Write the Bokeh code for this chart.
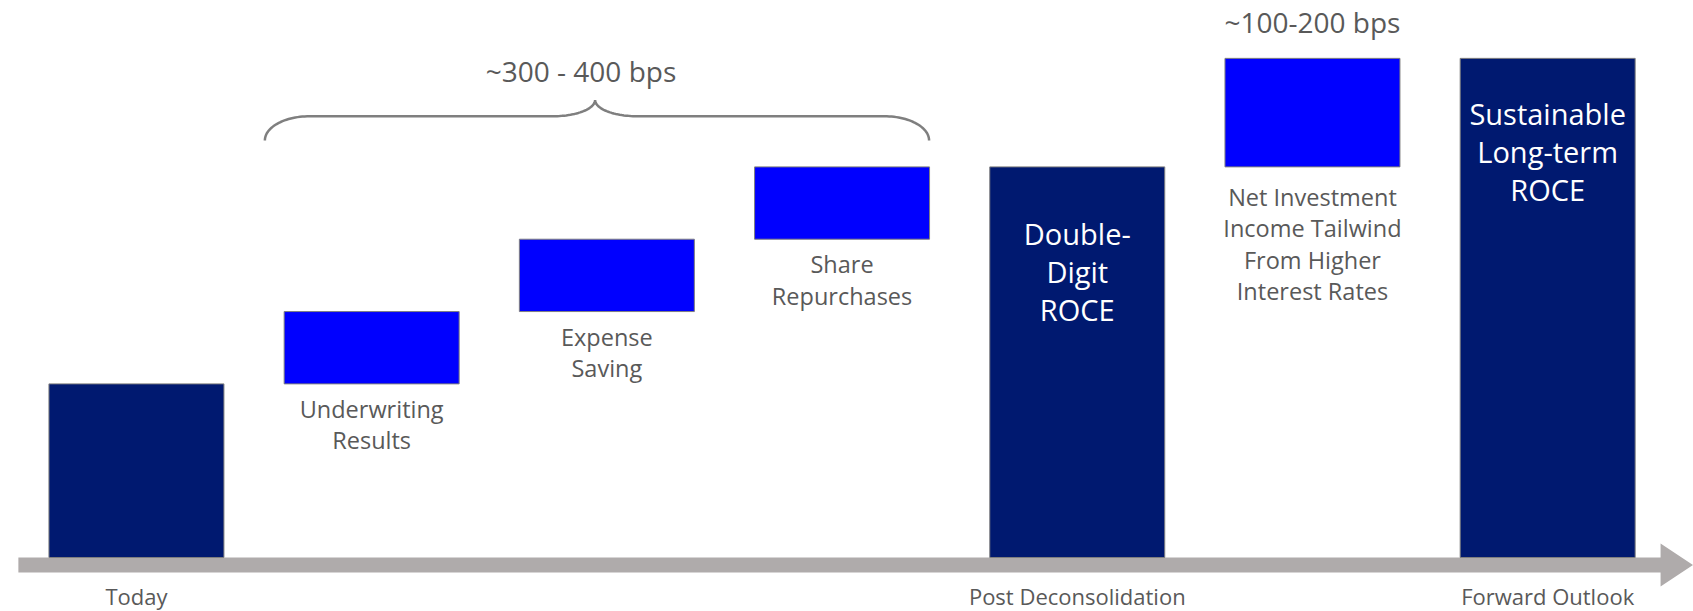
import numpy as np
from bokeh.plotting import figure
from bokeh.models import Range1d, ColumnDataSource
from bokeh.core.properties import value
from bokeh.embed import file_html
from bokeh.resources import INLINE

# ---------------- data ----------------
categories = ["Today", "Underwriting Results", "Expense Saving", "Share Repurchases",
              "Double-Digit ROCE", "Net Investment Income Tailwind From Higher Interest Rates",
              "Sustainable Long-term ROCE"]
kinds = ["total", "step", "step", "step", "total", "step", "total"]
step_values = [4.8, 2.0, 2.0, 2.0, None, 3.0, None]
bar_labels_below = ["", "Underwriting\nResults", "Expense\nSaving", "Share\nRepurchases",
                    "", "Net Investment\nIncome Tailwind\nFrom Higher\nInterest Rates", ""]
bar_labels_inside = ["", "", "", "", "Double-\nDigit\nROCE", "", "Sustainable\nLong-term\nROCE"]
axis_labels = ["Today", "", "", "", "Post Deconsolidation", "", "Forward Outlook"]
range_labels = ["~300 - 400 bps", "~100-200 bps"]

# ---------------- waterfall geometry from the data ----------------
bottoms, tops = [], []
running = 0.0
for k, v in zip(kinds, step_values):
    if k == "total":
        if v is not None:
            running = v
        bottoms.append(0.0)
        tops.append(running)
    else:
        bottoms.append(running)
        running += v
        tops.append(running)

xs = list(range(len(categories)))
NAVY = "#001970"
BLUE = "#0000FF"
colors = [NAVY if k == "total" else BLUE for k in kinds]
TEXT = "#595959"
FONT = value("Open Sans")

W, H = 1693, 611
p = figure(width=W, height=H, output_backend="svg", toolbar_location=None,
           x_range=Range1d(-0.578, 6.620), y_range=Range1d(-1.493, 15.40),
           min_border=0, outline_line_color=None)
p.axis.visible = False
p.grid.visible = False
p.background_fill_color = "white"
p.border_fill_color = "white"

# timeline arrow
band_top, band_bot = 0.0, -0.415
mid = (band_top + band_bot) / 2
head_x0, tip_x = 6.48, 6.618
p.patch([-0.502, head_x0, head_x0, tip_x, head_x0, head_x0, -0.502],
        [band_top, band_top, 0.387, mid, -0.80, band_bot, band_bot],
        fill_color="#AFABAB", line_color=None)

# bars
src = ColumnDataSource(dict(x=xs, bottom=bottoms, top=tops, color=colors))
p.vbar(x="x", width=0.744, bottom="bottom", top="top", fill_color="color",
       line_color="#7f7f7f", line_width=1, source=src)


def multiline(x, y, label, first_px, step_px, size, color):
    lines = label.split("\n")
    for k, ln in enumerate(lines):
        p.text([x], [y], text=[ln], text_font=FONT, text_font_size=size,
               text_color=color, text_align="center", text_baseline="middle",
               y_offset=first_px + k * step_px)


# labels below the step bars
for i, lab in enumerate(bar_labels_below):
    if lab:
        first = 30 if lab.count("\n") > 1 else 25
        multiline(xs[i], bottoms[i], lab, first, 31.5, "23.5px", TEXT)

# labels inside the total bars
in_first = {4: 67, 6: 55}
for i, lab in enumerate(bar_labels_inside):
    if lab:
        multiline(xs[i], tops[i], lab, in_first[i], 38, "29px", "white")

# axis labels
ax_x = [x for x, t in zip(xs, axis_labels) if t]
ax_t = [t for t in axis_labels if t]
p.text(ax_x, [-1.06] * len(ax_x), text=ax_t, text_font=FONT, text_font_size="22px",
       text_color=TEXT, text_align="center", text_baseline="middle")

# brace over the three step bars
x0, x1, xm = 0.546, 3.37, 1.95
y_end, y_h, y_tip = 11.53, 12.2, 12.65
rx_e, ry_e = 0.19, y_h - y_end
rx_c, ry_c = 0.18, y_tip - y_h
t = np.linspace(0, np.pi / 2, 30)
seg1_x = (x0 + rx_e) - rx_e * np.cos(t); seg1_y = y_end + ry_e * np.sin(t)
seg2_x = (xm - rx_c) + rx_c * np.sin(t); seg2_y = y_tip - ry_c * np.cos(t)
seg3_x = (xm + rx_c) - rx_c * np.sin(t[::-1]); seg3_y = y_tip - ry_c * np.cos(t[::-1])
seg4_x = (x1 - rx_e) + rx_e * np.cos(t[::-1]); seg4_y = y_end + ry_e * np.sin(t[::-1])
bx = np.concatenate([seg1_x, seg2_x, seg3_x, seg4_x])
by = np.concatenate([seg1_y, seg2_y, seg3_y, seg4_y])
p.line(bx, by, line_color="#7f7f7f", line_width=2.5)

p.text([1.89, 5.0], [13.46, 14.8], text=range_labels, text_font=FONT,
       text_font_size="28px", text_color=TEXT, text_align="center", text_baseline="middle")

open("out.html", "w").write(file_html(p, INLINE))
